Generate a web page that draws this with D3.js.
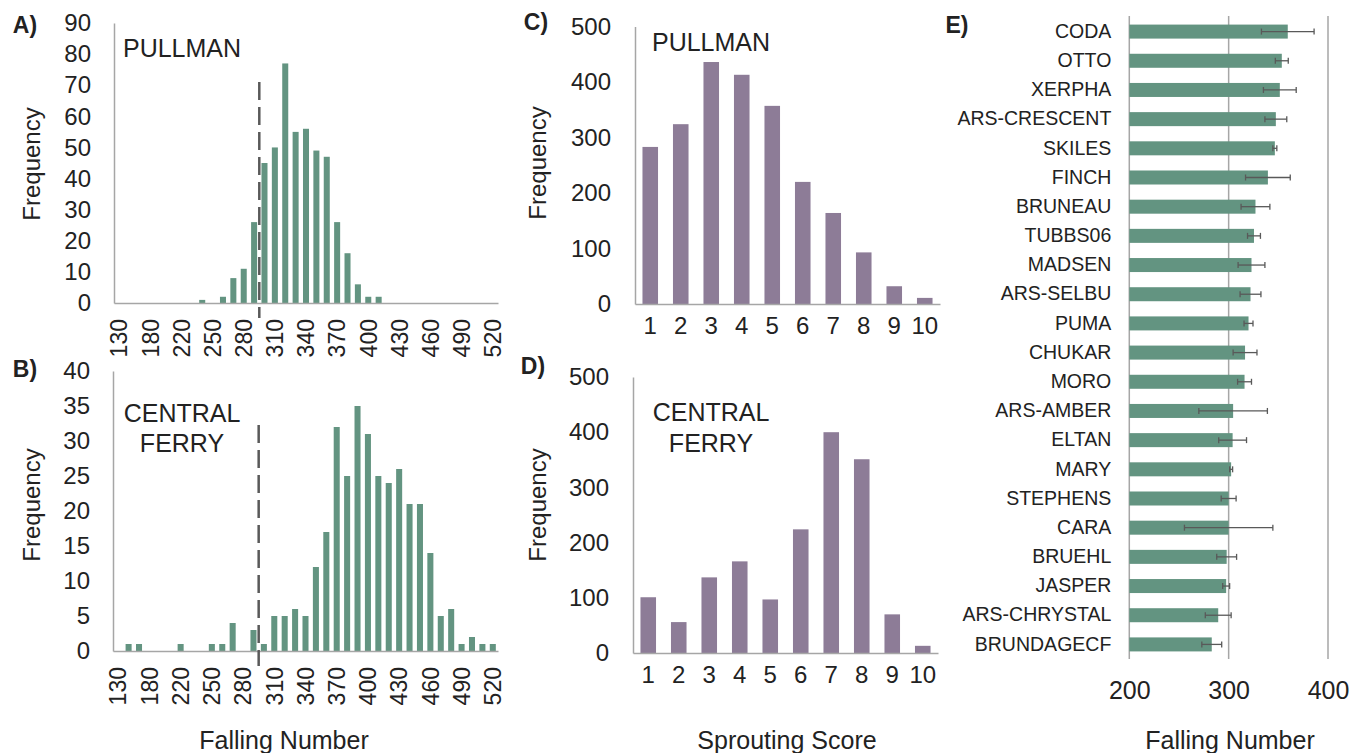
<!DOCTYPE html>
<html>
<head>
<meta charset="utf-8">
<title>Falling number and sprouting score</title>
<script src="https://cdn.jsdelivr.net/npm/d3@7"></script>
<style>
    body { margin: 0; background: #fff; }
    svg text { font-family: "Liberation Sans", Arial, sans-serif; fill: #222; }
    .domain { stroke: #a6a6a6; stroke-width: 1.5px; }
</style>
</head>
<body>
<svg width="1366" height="753"></svg>
<script>

// falling number histograms (37 bins, one label every third bin)
var fnTickLabels = ["130", "180", "220", "250", "280", "310", "340", "370", "400", "430", "460", "490", "520"];
var pullmanFN = [0, 0, 0, 0, 0, 0, 0, 0, 1, 0, 2, 8, 11, 26, 45, 50, 77, 55, 56, 49, 47, 26, 16, 6, 2, 2,
                 0, 0, 0, 0, 0, 0, 0, 0, 0, 0, 0];
var centralFN = [0, 1, 1, 0, 0, 0, 1, 0, 0, 1, 1, 4, 0, 3, 1, 5, 5, 6, 5, 12, 17, 32, 25, 35, 31, 25,
                 24, 26, 21, 21, 14, 5, 6, 1, 2, 1, 1];
var thresholdBin = 14; // dashed line sits at the start of this bin

// sprouting score
var scores = [1, 2, 3, 4, 5, 6, 7, 8, 9, 10];
var pullmanSS = [283, 324, 436, 413, 357, 220, 164, 93, 32, 11];
var centralSS = [101, 56, 137, 166, 97, 224, 400, 351, 70, 13];

// cultivar means
var cultivars = ["CODA", "OTTO", "XERPHA", "ARS-CRESCENT", "SKILES", "FINCH", "BRUNEAU", "TUBBS06", "MADSEN",
                 "ARS-SELBU", "PUMA", "CHUKAR", "MORO", "ARS-AMBER", "ELTAN", "MARY", "STEPHENS", "CARA",
                 "BRUEHL", "JASPER", "ARS-CHRYSTAL", "BRUNDAGECF"];
var cultivarFN = [359.5, 353.5, 351.5, 347.5, 346.5, 339.5, 327, 325.5, 323, 322, 320, 316.5, 316, 304.5,
                  304, 302.5, 300, 300, 298, 297.5, 289.5, 283];
var cultivarErr = [26.5, 6.5, 16.5, 11, 2, 22.5, 14.5, 6.5, 13.5, 10.5, 4.5, 12, 7, 34.5, 14, 1.5, 7.5,
                   44.5, 10, 3.5, 13, 10];

var green = "#639481", purple = "#8d7c97", gray = "#a6a6a6";

var svg = d3.select("svg");

function label(x, y, txt, size, bold, anchor) {
    return svg.append("text")
        .attr("x", x).attr("y", y)
        .attr("dy", "0.35em")
        .attr("text-anchor", anchor || "middle")
        .style("font-size", size + "px")
        .style("font-weight", bold ? "bold" : "normal")
        .text(txt);
}

function yTitle(x, y, txt) {
    svg.append("text")
        .attr("transform", "translate(" + x + "," + y + ") rotate(-90)")
        .attr("dy", "0.35em")
        .attr("text-anchor", "middle")
        .style("font-size", "24px")
        .text(txt);
}

// ---- A and B
function fnHist(values, x0, x1, yBottom, yTop, yMax, yStep, dashTop) {
    var x = d3.scaleBand().domain(d3.range(values.length)).range([x0, x1])
        .paddingInner(0.42).paddingOuter(0.21);
    var y = d3.scaleLinear().domain([0, yMax]).range([yBottom, yTop]);

    svg.append("g").attr("transform", "translate(" + x0 + ",0)")
        .call(d3.axisLeft(y).tickValues(d3.range(0, yMax + 1, yStep)).tickSize(0).tickPadding(23))
        .call(function(g) { g.selectAll("text").style("font-size", "24px").attr("fill", "#222"); });

    svg.append("g").selectAll("rect")
        .data(values)
        .enter().append("rect")
        .attr("x", function(d, i) { return x(i); })
        .attr("width", x.bandwidth())
        .attr("y", function(d) { return y(d); })
        .attr("height", function(d) { return yBottom - y(d); })
        .attr("fill", green);

    var xa = d3.axisBottom(x)
        .tickValues(d3.range(0, values.length, 3))
        .tickFormat(function(d) { return fnTickLabels[d / 3]; })
        .tickSize(0).tickSizeOuter(0);
    svg.append("g").attr("transform", "translate(0," + yBottom + ")")
        .call(xa)
        .call(function(g) {
            g.selectAll("text")
                .style("font-size", "23px").attr("fill", "#222")
                .attr("transform", "rotate(-90)")
                .attr("text-anchor", "end")
                .attr("x", -16).attr("y", 0).attr("dy", "0.36em");
        });

    var xs = x0 + x.step() * thresholdBin;
    svg.append("line")
        .attr("x1", xs).attr("x2", xs)
        .attr("y1", dashTop).attr("y2", yBottom + 15)
        .attr("stroke", "#595959").attr("stroke-width", 2.5)
        .attr("stroke-dasharray", "18,7");
}

fnHist(pullmanFN, 114, 498, 303, 23, 90, 10, 82);
fnHist(centralFN, 113, 498, 651, 371, 40, 5, 425);

// ---- C and D
function ssBars(values, x0, x1, yBottom, yTop) {
    var x = d3.scaleBand().domain(scores).range([x0, x1]).paddingInner(0.49).paddingOuter(0.245);
    var y = d3.scaleLinear().domain([0, 500]).range([yBottom, yTop]);

    svg.append("g").attr("transform", "translate(" + x0 + ",0)")
        .call(d3.axisLeft(y).tickValues(d3.range(0, 501, 100)).tickSize(0).tickPadding(24))
        .call(function(g) { g.selectAll("text").style("font-size", "24px").attr("fill", "#222"); });

    svg.append("g").selectAll("rect")
        .data(values)
        .enter().append("rect")
        .attr("x", function(d, i) { return x(scores[i]); })
        .attr("width", x.bandwidth())
        .attr("y", function(d) { return y(d); })
        .attr("height", function(d) { return yBottom - y(d); })
        .attr("fill", purple);

    svg.append("g").attr("transform", "translate(0," + yBottom + ")")
        .call(d3.axisBottom(x).tickSize(0).tickSizeOuter(0).tickPadding(13))
        .call(function(g) { g.selectAll("text").style("font-size", "24px").attr("fill", "#222"); });
}

ssBars(pullmanSS, 635, 940, 304, 26.5);
ssBars(centralSS, 633, 938, 653, 377);

// ---- E
var xe = d3.scaleLinear().domain([200, 400]).range([1129.3, 1328]);
var ye = d3.scaleBand().domain(cultivars).range([17, 659]).paddingInner(0.52).paddingOuter(0.26);

svg.append("g").selectAll("line")
    .data(xe.ticks(2))
    .enter().append("line")
    .attr("x1", function(d) { return xe(d); }).attr("x2", function(d) { return xe(d); })
    .attr("y1", 16).attr("y2", 659)
    .attr("stroke", gray).attr("stroke-width", 1.5);

svg.append("g").selectAll("rect")
    .data(cultivarFN)
    .enter().append("rect")
    .attr("x", xe(200))
    .attr("y", function(d, i) { return ye(cultivars[i]); })
    .attr("width", function(d) { return xe(d) - xe(200); })
    .attr("height", ye.bandwidth())
    .attr("fill", green);

var err = svg.append("g").attr("stroke", "#595959").attr("stroke-width", 1.3);
cultivarFN.forEach(function(m, i) {
    var cy = ye(cultivars[i]) + ye.bandwidth() / 2;
    var lo = xe(m - cultivarErr[i]), hi = xe(m + cultivarErr[i]);
    err.append("line").attr("x1", lo).attr("x2", hi).attr("y1", cy).attr("y2", cy);
    err.append("line").attr("x1", lo).attr("x2", lo).attr("y1", cy - 3).attr("y2", cy + 3);
    err.append("line").attr("x1", hi).attr("x2", hi).attr("y1", cy - 3).attr("y2", cy + 3);
});

svg.append("g").attr("transform", "translate(" + xe(200) + ",0)")
    .call(d3.axisLeft(ye).tickSize(0).tickPadding(18))
    .call(function(g) {
        g.select(".domain").remove();
        g.selectAll("text").style("font-size", "19.5px").attr("fill", "#222");
    });

svg.append("g").attr("transform", "translate(0,690)")
    .call(d3.axisBottom(xe).ticks(2).tickSize(0).tickPadding(0))
    .call(function(g) {
        g.select(".domain").remove();
        g.selectAll("text").style("font-size", "25px").attr("fill", "#222").attr("dy", "0.35em");
    });

// ---- titles and panel letters
label(25, 25, "A)", 23, true);
label(25, 369, "B)", 23, true);
label(536, 22, "C)", 23, true);
label(533, 366, "D)", 23, true);
label(957, 25, "E)", 23, true);

yTitle(32, 164, "Frequency");
yTitle(32, 505, "Frequency");
yTitle(538, 163, "Frequency");
yTitle(538, 505, "Frequency");

label(182, 48, "PULLMAN", 25);
label(182, 413, "CENTRAL", 25);
label(182, 443, "FERRY", 25);
label(711, 42, "PULLMAN", 25);
label(711, 412, "CENTRAL", 25);
label(711, 443, "FERRY", 25);

label(284, 740, "Falling Number", 25);
label(787, 740, "Sprouting Score", 25);
label(1230, 740, "Falling Number", 25);

</script>
</body>
</html>
